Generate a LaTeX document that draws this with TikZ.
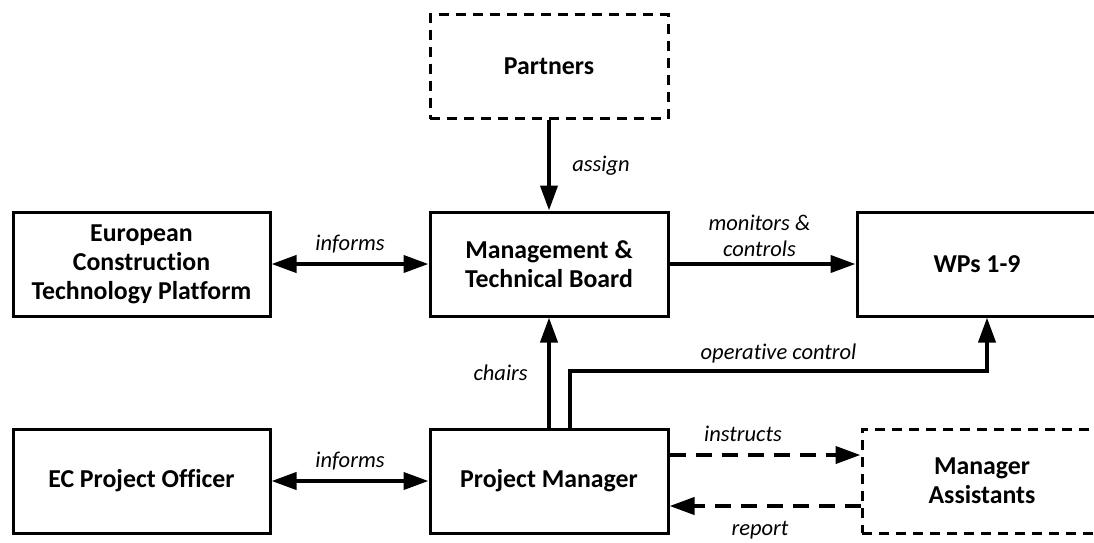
\documentclass[tikz,border=0pt]{standalone}
\usepackage{fontspec}
\setmainfont{Carlito}[Ligatures=NoCommon]
\usepackage{tikz}
\usetikzlibrary{arrows.meta,positioning,calc}

\tikzset{
  box/.style={draw, line width=3pt, minimum width=238pt, minimum height=104pt, align=center,
    font=\bfseries\fontsize{25.8}{29}\selectfont},
  dashbox/.style={box, dash pattern=on 10pt off 7pt},
  arr/.style={line width=4pt, -{Triangle[length=25pt,width=17pt]}},
  biarr/.style={line width=4pt, {Triangle[length=25pt,width=17pt]}-{Triangle[length=25pt,width=17pt]}},
  dasharr/.style={arr, dash pattern=on 16pt off 10pt},
  lbl/.style={font=\itshape\fontsize{22.5}{26}\selectfont, align=center}
}

\begin{document}
\begin{tikzpicture}[x=1pt, y=-1pt]
  \useasboundingbox (0,0) rectangle (1094,542);
  \clip (0,0) rectangle (1094,542);

  % boxes
  \node[dashbox] (partners) at (549,66.5) {Partners};
  \node[box, minimum width=257pt] (ectp) at (141.5,264) {European\\Construction\\Technology Platform};
  \node[box] (mtb) at (549,264) {Management \&\\Technical Board};
  \node[box, minimum width=240pt] (wps) at (977,264) {WPs 1-9};
  \node[box, minimum width=257pt] (ecpo) at (141.5,481) {EC Project Officer};
  \node[box] (pm) at (549,481) {Project Manager};
  \node[dashbox, minimum width=240pt] (ma) at (982,481) {Manager\\Assistants};

  % connectors
  \draw[arr] (partners) -- (mtb) node[midway, right=18pt, lbl] {assign};
  \draw[biarr] (ectp) -- (mtb) node[midway, above=6pt, lbl] {informs};
  \draw[arr] (mtb) -- (wps) node[midway, above=2pt, xshift=-3pt, lbl] {monitors \&\\controls};
  \draw[arr] (pm) -- (mtb) node[midway, left=16pt, lbl] {chairs};
  \coordinate (wpsin) at ([xshift=10pt]wps.south);
  \draw[arr] ([xshift=21pt]pm.north) -- ++(0,-57) coordinate (bend)
    -- (wpsin |- bend) node[midway, above=2pt, lbl] {operative control} -- (wpsin);
  \draw[biarr] (ecpo) -- (pm) node[midway, above=6pt, lbl] {informs};
  \draw[dasharr] ([yshift=26pt]pm.east) -- ([yshift=26pt]pm.east -| ma.west)
    node[midway, above=8pt, xshift=-22pt, lbl] {instructs};
  \draw[dasharr] ([yshift=-25pt]ma.west) -- ([yshift=-25pt]ma.west -| pm.east)
    node[midway, below=10pt, xshift=-5pt, lbl] {report};
\end{tikzpicture}
\end{document}
